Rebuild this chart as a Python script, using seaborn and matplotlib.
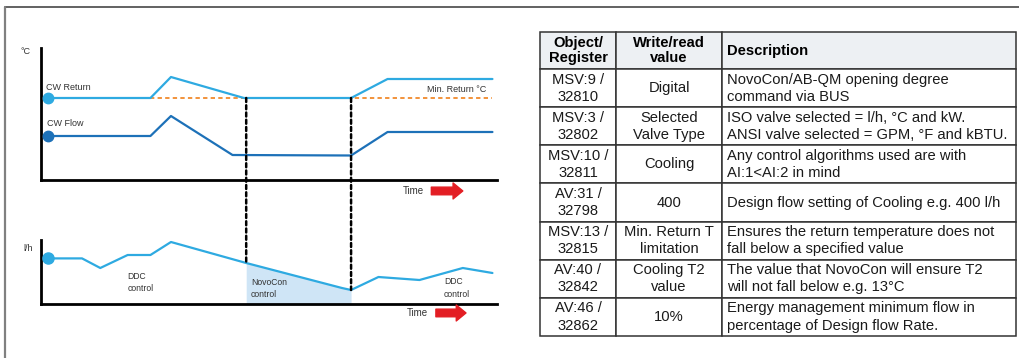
import numpy as np
import matplotlib
matplotlib.use("Agg")
import matplotlib.pyplot as plt
from matplotlib.lines import Line2D
from matplotlib.patches import ConnectionPatch
from matplotlib import font_manager
import seaborn as sns

# ---- chart data -------------------------------------------------------
# temperature panel (arbitrary time units 0-100, schematic °C scale)
t_return = [1.5, 24, 28.5, 44.5, 68, 76, 99]
cw_return = [8.2, 8.2, 10.3, 8.2, 8.2, 10.1, 10.1]
t_cwflow = [1.5, 24, 28.5, 42, 68, 76, 99]
cw_flow = [4.4, 4.4, 6.4, 2.5, 2.45, 4.8, 4.8]
min_return = 8.2
min_return_span = [24, 99]

# flow panel (schematic l/h scale)
t_lh = [1.5, 9, 13, 19, 24, 28.5, 45, 66, 68, 74, 83, 92.5, 99]
flow_lh = [228, 228, 180, 245, 245, 310, 205, 80, 70, 135, 120, 180, 155]

# NovoCon control period
novocon_start, novocon_end = 45, 68

# ---- table data -------------------------------------------------------
col_labels = ["Object/\nRegister", "Write/read\nvalue", "Description"]
registers = ["MSV:9 /\n32810", "MSV:3 /\n32802", "MSV:10 /\n32811", "AV:31 /\n32798",
             "MSV:13 /\n32815", "AV:40 /\n32842", "AV:46 /\n32862"]
rw_values = ["Digital", "Selected\nValve Type", "Cooling", "400",
             "Min. Return T\nlimitation", "Cooling T2\nvalue", "10%"]
descriptions = [
    "NovoCon/AB-QM opening degree\ncommand via BUS",
    "ISO valve selected = l/h, °C and kW.\nANSI valve selected = GPM, °F and kBTU.",
    "Any control algorithms used are with\nAI:1<AI:2 in mind",
    "Design flow setting of Cooling e.g. 400 l/h",
    "Ensures the return temperature does not\nfall below a specified value",
    "The value that NovoCon will ensure T2\nwill not fall below e.g. 13°C",
    "Energy management minimum flow in\npercentage of Design flow Rate.",
]

# ---- style ------------------------------------------------------------
sns.set_style("white")
plt.rcParams["font.family"] = ["Liberation Sans", "DejaVu Sans"]
TABLE_FS = 10.6

# bold face file for the table header
bold_path = font_manager.findfont(
    font_manager.FontProperties(family="Liberation Sans", weight="bold"))
header_font = font_manager.FontProperties(fname=bold_path, size=TABLE_FS)

LIGHT_BLUE = "#2eaae1"
DARK_BLUE = "#1d71b8"
ORANGE = "#f18a2c"
RED = "#e31e24"
FILL = "#cfe5f6"
TXT = "#333333"

W, H = 1019, 358
fig = plt.figure(figsize=(W / 100, H / 100), dpi=100)


def px_axes(x0, y0, x1, y1):
    return fig.add_axes([x0 / W, 1 - y1 / H, (x1 - x0) / W, (y1 - y0) / H])


def style_axes(ax):
    sns.despine(ax=ax)
    for s in ("left", "bottom"):
        ax.spines[s].set_linewidth(2.0)
        ax.spines[s].set_color("black")
    ax.set_xticks([])
    ax.set_yticks([])
    ax.set_xlabel("")
    ax.set_ylabel("")
    ax.patch.set_alpha(0)


def time_arrow(ax, x_text, x0, x1, y):
    ax.text(x_text, y, "Time", transform=ax.transAxes, ha="center", va="center",
            fontsize=7, color=TXT)
    ax.annotate("", xy=(x1, y), xytext=(x0, y), xycoords="axes fraction",
                arrowprops=dict(arrowstyle="simple,head_length=0.7,head_width=1.15,tail_width=0.55",
                                color=RED, mutation_scale=10, shrinkA=0, shrinkB=0))


# ---- temperature panel --------------------------------------------------
ax_t = px_axes(41, 48, 497, 180)
ax_t.set_xlim(0, 100)
ax_t.set_ylim(0, 13.2)
ax_t.plot(min_return_span, [min_return, min_return], color=ORANGE, lw=1.3,
          ls=(0, (2.4, 1.8)), zorder=2)
sns.lineplot(x=t_return, y=cw_return, ax=ax_t, color=LIGHT_BLUE, linewidth=1.6,
             estimator=None, sort=False, zorder=3)
sns.lineplot(x=t_cwflow, y=cw_flow, ax=ax_t, color=DARK_BLUE, linewidth=1.6,
             estimator=None, sort=False, zorder=3)
ax_t.plot(t_return[0], cw_return[0], "o", color=LIGHT_BLUE, ms=7.5, clip_on=False, zorder=4)
ax_t.plot(t_cwflow[0], cw_flow[0], "o", color=DARK_BLUE, ms=7.5, clip_on=False, zorder=4)
style_axes(ax_t)

ax_t.text(t_return[0] - 0.3, cw_return[0] + 1.1, "CW Return", fontsize=6.5, color=TXT,
          ha="left", va="center")
ax_t.text(t_cwflow[0] - 0.2, cw_flow[0] + 1.3, "CW Flow", fontsize=6.5, color=TXT,
          ha="left", va="center")
ax_t.text(91.2, min_return + 0.8, "Min. Return °C", fontsize=6.5, color=TXT,
          ha="center", va="center")
ax_t.text(-0.033, 0.977, "°C", transform=ax_t.transAxes, fontsize=6.5, color=TXT,
          ha="center", va="center")
time_arrow(ax_t, 0.816, 0.856, 0.925, -0.083)

# ---- flow panel ---------------------------------------------------------
ax_f = px_axes(41, 240, 497, 304)
ax_f.set_xlim(0, 100)
ax_f.set_ylim(0, 320)
t_arr = np.array(t_lh)
f_arr = np.array(flow_lh)
ax_f.fill_between(t_arr, f_arr, 0, where=(t_arr >= novocon_start) & (t_arr <= novocon_end),
                  color=FILL, linewidth=0, zorder=1)
sns.lineplot(x=t_lh, y=flow_lh, ax=ax_f, color=LIGHT_BLUE, linewidth=1.6,
             estimator=None, sort=False, zorder=3)
ax_f.plot(t_lh[0], flow_lh[0], "o", color=LIGHT_BLUE, ms=8, clip_on=False, zorder=4)
style_axes(ax_f)

for tx, ty, lab in ((19, 107, "DDC\ncontrol"), (46, 77, "NovoCon\ncontrol"),
                    (88.4, 80, "DDC\ncontrol")):
    ax_f.text(tx, ty, lab, fontsize=6.2, color=TXT, ha="left", va="center",
              linespacing=1.45)
ax_f.text(-0.0285, 0.86, "l/h", transform=ax_f.transAxes, fontsize=6.5, color=TXT,
          ha="center", va="center")
time_arrow(ax_f, 0.825, 0.866, 0.932, -0.14)

# dashed markers of the NovoCon period spanning both panels
for tb in (novocon_start, novocon_end):
    y_top = np.interp(tb, t_return, cw_return)
    y_bot = np.interp(tb, t_lh, flow_lh)
    con = ConnectionPatch(xyA=(tb, y_top), coordsA=ax_t.transData,
                          xyB=(tb, y_bot), coordsB=ax_f.transData,
                          color="black", lw=1.8, linestyle=(0, (1.6, 1.3)), zorder=5)
    fig.add_artist(con)

# ---- register table -----------------------------------------------------
ax_tab = px_axes(540, 32, 1016, 336)
ax_tab.axis("off")
col_w = [76, 106, 294]
cell_text = [[r, v, d] for r, v, d in zip(registers, rw_values, descriptions)]
tbl = ax_tab.table(cellText=cell_text, colLabels=col_labels,
                   colWidths=[w / sum(col_w) for w in col_w],
                   cellLoc="center", bbox=[0, 0, 1, 1])
tbl.auto_set_font_size(False)
tbl.set_fontsize(TABLE_FS)
for (r, c), cell in tbl.get_celld().items():
    cell.set_edgecolor("#333333")
    cell.set_linewidth(1.1)
    cell.set_height(37 if r == 0 else 38)
    txt = cell.get_text()
    txt.set_color("#1a1a1a")
    txt.set_linespacing(1.3)
    if r == 0:
        cell.set_facecolor("#edf0f3")
        txt.set_fontproperties(header_font)
        txt.set_linespacing(1.15)
        txt.set_color("black")
    if c == 2:
        cell._loc = "left"
        cell.PAD = 5 / 294
        txt.set_ha("left")

# ---- outer frame lines ---------------------------------------------------
fig.add_artist(Line2D([5 / W, 1], [1 - 7 / H, 1 - 7 / H], transform=fig.transFigure,
                      color="#555555", lw=1.3))
fig.add_artist(Line2D([5 / W, 5 / W], [0, 1 - 7 / H], transform=fig.transFigure,
                      color="#808080", lw=1.6))

fig.savefig("out.png", dpi=100, facecolor="white")
